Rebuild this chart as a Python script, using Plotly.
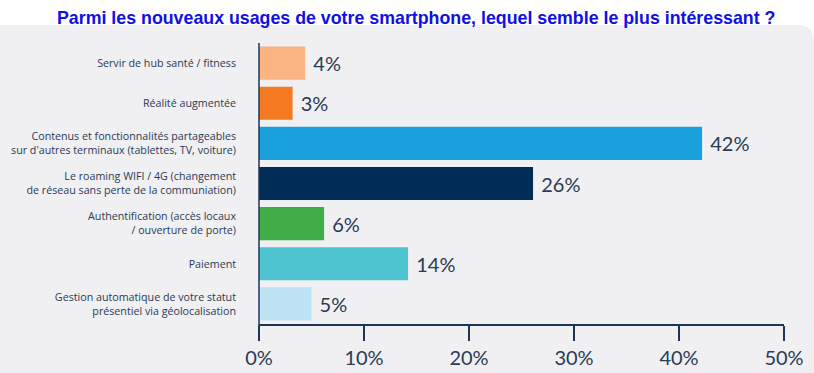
import plotly.graph_objects as go

categories = [
    "Servir de hub santé / fitness",
    "Réalité augmentée",
    "Contenus et fonctionnalités partageables<br>sur d'autres terminaux (tablettes, TV, voiture)",
    "Le roaming WIFI / 4G (changement<br>de réseau sans perte de la communiation)",
    "Authentification (accès locaux<br>/ ouverture de porte)",
    "Paiement",
    "Gestion automatique de votre statut<br>présentiel via géolocalisation",
]
values = [4.4, 3.2, 42.2, 26.1, 6.2, 14.2, 5.0]
colors = ["#fbb584", "#f47920", "#1aa0dc", "#002d56", "#3fae49", "#4dc4d0", "#bde3f5"]
x_ticks = [0, 10, 20, 30, 40, 50]
x_tick_labels = ["0%", "10%", "20%", "30%", "40%", "50%"]
title = "Parmi les nouveaux usages de votre smartphone, lequel semble le plus intéressant ?"

W, H = 814, 373
L, R, T, B = 259, 30, 43, 49
pw, ph = W - L - R, H - T - B

def px(x):
    return (x - L) / pw

def py(y):
    return (H - B - y) / ph

navy = "#1e3557"
text_col = "#2b3a55"

fig = go.Figure(go.Bar(
    x=values, y=categories, orientation="h",
    marker=dict(color=colors, line=dict(width=0)),
    text=values, texttemplate="\u00a0%{x:.0f}%", textposition="outside",
    textfont=dict(family="Lato", size=20, color=text_col),
    cliponaxis=False, hoverinfo="skip",
))

r = 16
panel = (f"M {px(0)},{py(H)} L {px(0)},{py(25)} L {px(W - r)},{py(25)} "
         f"Q {px(W)},{py(25)} {px(W)},{py(25 + r)} L {px(W)},{py(H)} Z")

fig.update_layout(
    width=W, height=H,
    margin=dict(l=L, r=R, t=T, b=B, pad=0),
    paper_bgcolor="white",
    plot_bgcolor="rgba(0,0,0,0)",
    showlegend=False,
    bargap=0.175,
    shapes=[
        dict(type="path", path=panel, xref="paper", yref="paper",
             fillcolor="#f0f0f2", line=dict(width=0), layer="below"),
        dict(type="line", xref="paper", yref="paper", x0=0, x1=0,
             y0=py(339), y1=1, line=dict(color=navy, width=1.5)),
    ],
    annotations=[dict(
        text=f"<b>{title}</b>", xref="paper", yref="paper",
        x=px(416), y=py(18), xanchor="center", yanchor="middle",
        showarrow=False, font=dict(family="Liberation Sans", size=17.8, color="#1010e6"),
    )],
    xaxis=dict(
        range=[0, 50], tickvals=x_ticks, ticktext=x_tick_labels,
        showgrid=False, zeroline=False,
        showline=True, linecolor=navy, linewidth=1.5,
        ticks="outside", ticklen=15, tickwidth=1.5, tickcolor=navy,
        tickfont=dict(family="Lato", size=20, color=text_col),
        fixedrange=True, automargin=False,
    ),
    yaxis=dict(
        autorange="reversed", showgrid=False, zeroline=False,
        showline=False, ticks="", ticklabelstandoff=22,
        tickfont=dict(family="Open Sans", size=10.7, color=text_col),
        fixedrange=True, automargin=False,
    ),
)

fig.write_html("out.html", config={"displayModeBar": False},
               post_script="document.body.style.margin='0';")
